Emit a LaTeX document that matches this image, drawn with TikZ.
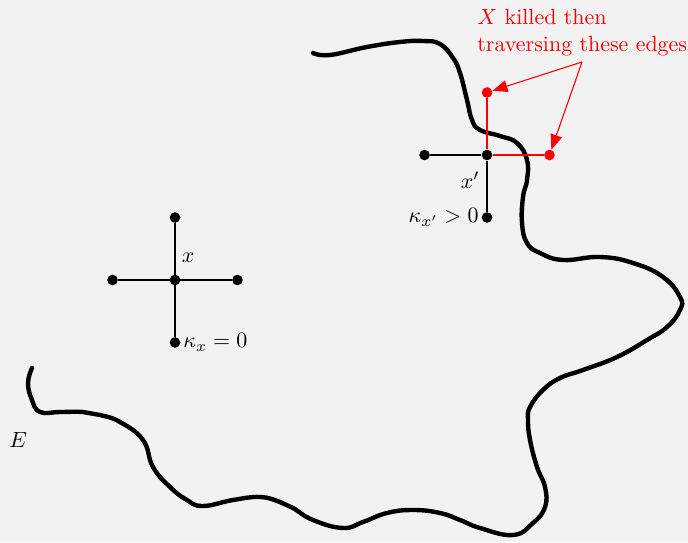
\documentclass[tikz,border=0pt]{standalone}
\usepackage{amsmath}
\usepackage{amssymb}
\usetikzlibrary{arrows.meta, positioning}

\begin{document}
\begin{tikzpicture}[x=0.016cm, y=-0.016cm, node distance=1cm, on grid,
        dot/.style={circle, fill, inner sep=0pt, minimum size=0.17cm},
        reddot/.style={dot, red},
        edge/.style={line width=0.6pt},
        rededge/.style={line width=0.9pt, red},
        pointer/.style={red, line width=0.5pt, -{Triangle[length=0.24cm, width=0.19cm]}}]
        \useasboundingbox (0,0) rectangle (688,542);
        \fill[gray!10] (0,0) rectangle (688,542);
        % the set E
        \draw[line width=2pt, line cap=round, line join=round] plot[smooth, tension=0.75] coordinates {
            (313,53) (330,55) (367,47) (400,42) (423,41) (440,44) (453,58) (460,73) (467,100) (472,120)
            (480,130) (500,136) (517,143) (527,160) (527,180) (523,197) (522,223) (527,243) (540,253)
            (563,260) (600,257) (633,263) (663,277) (680,297) (680,310) (667,327) (647,340) (617,357)
            (583,370) (560,378) (543,390) (530,407) (528,420) (530,440) (537,467) (545,487) (545,507)
            (533,523) (513,535) (480,528) (460,520) (440,513) (413,510) (387,513) (363,522) (343,528)
            (313,520) (293,508) (280,502) (260,497) (233,500) (203,506) (187,500) (170,487) (153,467)
            (143,440) (120,422) (100,415) (83,412) (60,412) (40,412) (32,400) (28,383) (32,368)};
        \node (elbl) at (18,440) {$E$};
        % vertex x outside E
        \node[dot] (x) at (175,280) {};
        \node[dot, above=of x] (xn) {};
        \node[dot, below=of x, label={[inner sep=1pt]right:$\kappa_x=0$}] (xs) {};
        \node[dot, left=of x] (xw) {};
        \node[dot, right=of x] (xe) {};
        \node[above right=0.35cm and 0.21cm of x] (xlbl) {$x$};
        \draw[edge] (xn) -- (xs);
        \draw[edge] (xw) -- (xe);
        % vertex x' inside E
        \node[dot] (xp) at (487,155) {};
        \node[reddot, above=of xp] (xpn) {};
        \node[dot, below=of xp, label={[inner sep=1pt]left:$\kappa_{x'}>0$}] (xps) {};
        \node[dot, left=of xp] (xpw) {};
        \node[reddot, right=of xp] (xpe) {};
        \node[below left=0.4cm and 0.27cm of xp] (xplbl) {$x'$};
        \draw[edge] (xpw) -- (xp) -- (xps);
        \draw[rededge] (xpn) -- (xp) -- (xpe);
        % note
        \node[red, align=left, anchor=north west, inner sep=0pt] (note) at (477,9) {$X$ killed then\\traversing these edges};
        \coordinate (tail) at (582,62);
        \draw[pointer] (tail) -- (xpn);
        \draw[pointer] (tail) -- (xpe);
\end{tikzpicture}
\end{document}
